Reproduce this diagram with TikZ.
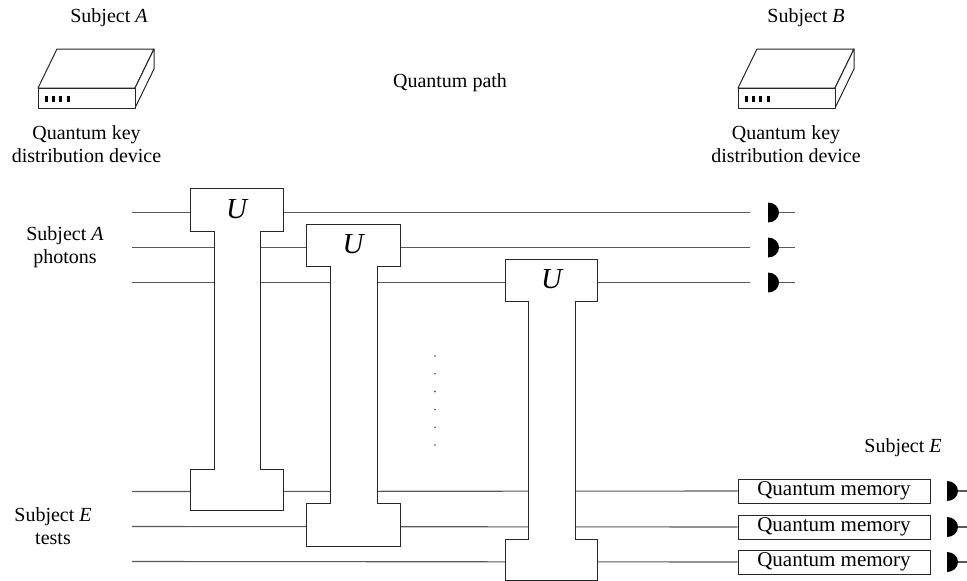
\documentclass[tikz,border=0pt]{standalone}
\usepackage{fontspec}
\setmainfont{Liberation Serif}
\tikzset{
  wire/.style={line width=1.1pt, draw=black!65},
  gatebox/.style={draw=black!85, line width=1pt, fill=white},
  lbl/.style={font=\fontsize{20}{23}\selectfont, align=center, inner sep=0pt},
  ulbl/.style={font=\fontsize{29}{30}\selectfont\itshape, inner sep=0pt},
  membox/.style={draw=black!85, line width=1pt, fill=white, minimum width=192pt, minimum height=24pt, inner sep=0pt, font=\fontsize{21}{23}\selectfont},
  devline/.style={draw=black!85, line width=1pt, line join=round},
  pics/det/.style={code={
    \fill[black] (0,10) arc[start angle=90,end angle=-90,x radius=11,y radius=10] -- cycle;
    \draw[wire] (11,0) -- (#1,0);
  }},
  pics/qkd/.style={code={
    \draw[devline, fill=white] (0,0) -- (19,-39) -- (116,-39) -- (97,0) -- cycle;
    \draw[devline, fill=white] (97,0) -- (116,-39) -- (116,-19) -- (97,20) -- cycle;
    \draw[devline, fill=white] (0,0) rectangle (97,20);
    \foreach \bx in {7,14,21,28.5} \fill[black] (\bx,8) rectangle ++(3.3,6);
  }}
}
\begin{document}
\begin{tikzpicture}[x=1pt,y=-1pt]
\useasboundingbox (0,0) rectangle (967,581);

% devices
\pic at (38,88) {qkd};
\pic at (738,88) {qkd};
\node[lbl] (subjA) at (109,18) {Subject \textit{A}};
\node[lbl] (subjB) at (806,18) {Subject \textit{B}};
\node[lbl] (qkdA) at (86.5,144) {Quantum key\\distribution device};
\node[lbl] (qkdB) at (786,144) {Quantum key\\distribution device};
\node[lbl] (qpath) at (450,83) {Quantum path};

% left labels
\node[lbl] (aph) at (65,247) {Subject \textit{A}\\photons};
\node[lbl] (etests) at (53,526) {Subject \textit{E}\\tests};
\node[lbl] (subjE) at (903,448) {Subject \textit{E}};

% wire starts
\foreach \i/\y in {1/212.5,2/247.5,3/282.5,4/491.5,5/526.5,6/561.5}
  \coordinate (s\i) at (132,\y);
\foreach \i/\y in {1/212.5,2/247.5,3/282.5}
  \coordinate (e\i) at (750,\y);

% memories
\node[membox] (m4) at (834,491) {Quantum memory};
\node[membox] (m5) at (834,527) {Quantum memory};
\node[membox] (m6) at (834,562) {Quantum memory};

% wires
\draw[wire] (s1) -- (e1);
\draw[wire] (s2) -- (e2);
\draw[wire] (s3) -- (e3);
\draw[wire] (s4) -- (m4.west);
\draw[wire] (s5) -- (m5.west);
\draw[wire] (s6) -- (m6.west);

% detectors
\pic at (768,212.5) {det=27};
\pic at (768,247.5) {det=27};
\pic at (768,282.5) {det=27};
\pic at (947,491) {det=20};
\pic at (947,527) {det=20};
\pic at (947,562) {det=20};

% gates
\draw[gatebox] (190,188) -- (283,188) -- (283,231) -- (260,231) -- (260,469) -- (283,469) -- (283,510) -- (190,510) -- (190,469) -- (214,469) -- (214,231) -- (190,231) -- cycle;
\draw[gatebox] (306,224) -- (400,224) -- (400,266) -- (377,266) -- (377,503) -- (400,503) -- (400,546) -- (306,546) -- (306,503) -- (330,503) -- (330,266) -- (306,266) -- cycle;
\draw[gatebox] (505,259) -- (597.5,259) -- (597.5,301) -- (575.5,301) -- (575.5,539) -- (597.5,539) -- (597.5,580) -- (505,580) -- (505,539) -- (528,539) -- (528,301) -- (505,301) -- cycle;
\node[ulbl] (u1) at (236.5,209) {U};
\node[ulbl] (u2) at (353,244.5) {U};
\node[ulbl] (u3) at (551.5,279.5) {U};

% vertical dots
\foreach \k in {0,...,5}
  \fill[black!70] (435,356+17.8*\k) circle[radius=0.9];
\end{tikzpicture}
\end{document}
